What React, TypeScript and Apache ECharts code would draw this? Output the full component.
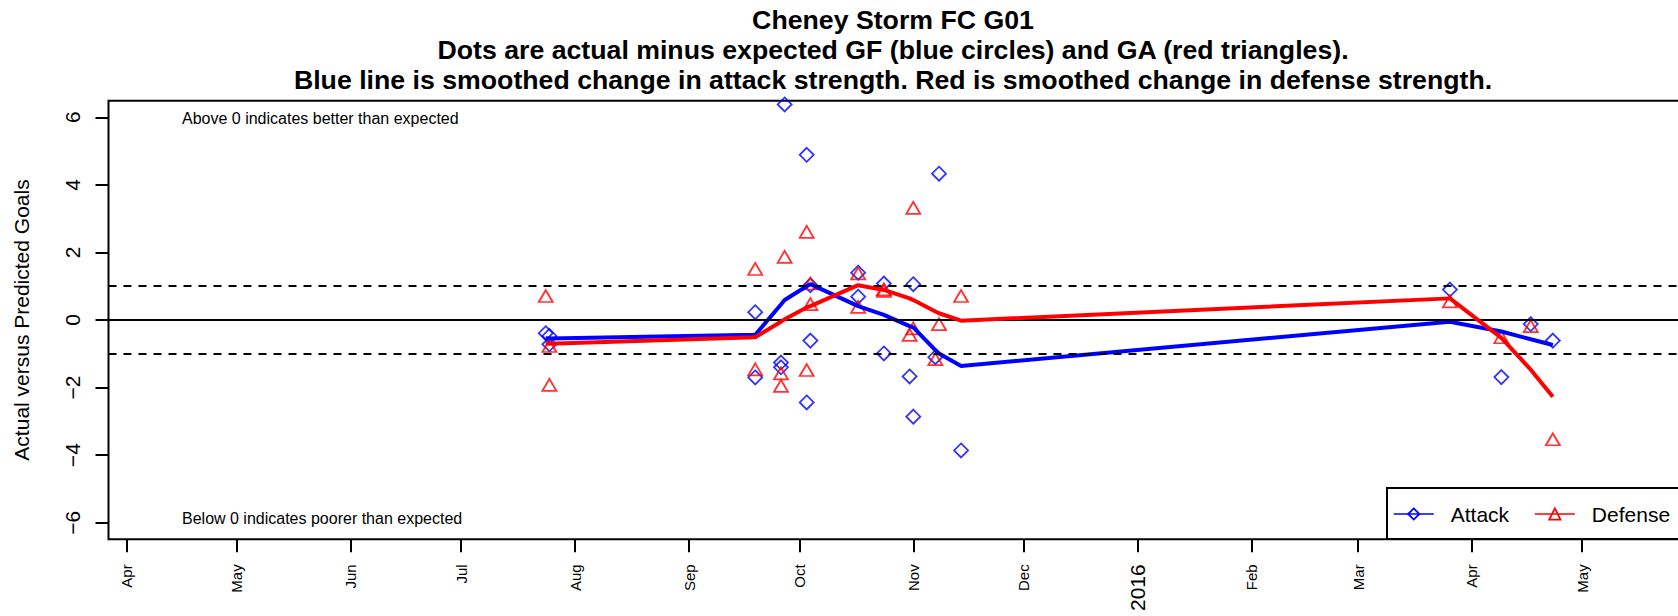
import React, { useEffect, useRef } from "react";
import * as echarts from "echarts";

// ---- Data ----
const matchDates = [
  "2015-07-24", "2015-07-25", "2015-07-25",
  "2015-09-19", "2015-09-19",
  "2015-09-26", "2015-09-26", "2015-09-27",
  "2015-10-03", "2015-10-03",
  "2015-10-04", "2015-10-04",
  "2015-10-17", "2015-10-17",
  "2015-10-24", "2015-10-24",
  "2015-10-31", "2015-11-01", "2015-11-01",
  "2015-11-07", "2015-11-08",
  "2015-11-14",
  "2016-03-26", "2016-04-09", "2016-04-17", "2016-04-23",
];
const attackDiff = [
  -0.39, -0.47, -0.72,
  0.23, -1.7,
  -1.26, -1.4, 6.38,
  4.89, -2.44,
  1.03, -0.61,
  1.4, 0.69,
  1.08, -0.99,
  -1.67, 1.06, -2.86,
  -1.1, 4.33,
  -3.86,
  0.9, -1.69, -0.12, -0.61,
];
const defenseDiff = [
  0.71, -0.77, -1.92,
  1.51, -1.46,
  -1.58, -1.95, 1.87,
  2.61, -1.48,
  1.08, 0.47,
  1.38, 0.39,
  0.91, 0.86,
  -0.44, 3.32, -0.25,
  -1.16, -0.12,
  0.71,
  0.55, -0.51, -0.18, -3.53,
];

const smoothDates = [
  "2015-07-24", "2015-07-25", "2015-09-19", "2015-09-26", "2015-09-27",
  "2015-10-03", "2015-10-04", "2015-10-17", "2015-10-24", "2015-10-31",
  "2015-11-01", "2015-11-07", "2015-11-08", "2015-11-14",
  "2016-03-26", "2016-04-09", "2016-04-17", "2016-04-23",
];
const attackSmooth = [
  -0.54, -0.55, -0.44, 0.46, 0.59,
  1.0, 1.06, 0.41, 0.15, -0.18,
  -0.22, -0.89, -0.99, -1.36,
  -0.05, -0.34, -0.57, -0.74,
];
const defenseSmooth = [
  -0.69, -0.7, -0.51, -0.05, 0.02,
  0.37, 0.41, 1.03, 0.89, 0.64,
  0.59, 0.25, 0.2, -0.02,
  0.64, -0.53, -1.47, -2.27,
];

const monthTickDates = [
  "2015-04-01", "2015-05-01", "2015-06-01", "2015-07-01", "2015-08-01",
  "2015-09-01", "2015-10-01", "2015-11-01", "2015-12-01", "2016-01-01",
  "2016-02-01", "2016-03-01", "2016-04-01", "2016-05-01",
];
const monthTickLabels = [
  "Apr", "May", "Jun", "Jul", "Aug", "Sep", "Oct", "Nov", "Dec", "2016",
  "Feb", "Mar", "Apr", "May",
];
const yTicks = [-6, -4, -2, 0, 2, 4, 6];

const titleLines = [
  "Cheney Storm FC G01",
  "Dots are actual minus expected GF (blue circles) and GA (red triangles).",
  "Blue line is smoothed change in attack strength. Red is smoothed change in defense strength.",
];

// ---- helpers ----
const toUTC = (s: string) => {
  const [y, m, d] = s.split("-").map(Number);
  return Date.UTC(y, m - 1, d);
};

const X_MIN = Date.UTC(2015, 2, 27, 1);
const X_MAX = Date.UTC(2016, 4, 28, 10);
const Y_MIN = -6.49;
const Y_MAX = 6.49;

const FONT = "'Liberation Sans', Arial, Helvetica, sans-serif";
const BLUE = "#0000FF";
const RED = "#FF0000";

export default function App() {
  const ref = useRef<HTMLDivElement>(null);

  useEffect(() => {
    if (!ref.current) return;
    const chart = echarts.init(ref.current, undefined, { renderer: "svg" });

    const tickValues = monthTickDates.map(toUTC);
    const attackPts = matchDates.map((d, i) => [toUTC(d), attackDiff[i]]);
    const defensePts = matchDates.map((d, i) => [toUTC(d), defenseDiff[i]]);
    const attackLine = smoothDates.map((d, i) => [toUTC(d), attackSmooth[i]]);
    const defenseLine = smoothDates.map((d, i) => [toUTC(d), defenseSmooth[i]]);

    const titleY = [19.5, 49.5, 79.5];

    const option: any = {
      animation: false,
      backgroundColor: "#ffffff",
      textStyle: { fontFamily: FONT },
      grid: {
        left: 108.5,
        top: 100.7,
        width: 1574.5,
        height: 438.6,
        show: true,
        borderColor: "#000",
        borderWidth: 2,
        backgroundColor: "transparent",
        containLabel: false,
        outerBoundsMode: "none",
      },
      xAxis: {
        type: "value",
        min: X_MIN,
        max: X_MAX,
        scale: true,
        splitLine: { show: false },
        axisLine: { show: false, onZero: false },
        axisTick: {
          show: true,
          customValues: tickValues,
          length: 13,
          lineStyle: { color: "#000", width: 2 },
        },
        axisLabel: {
          show: true,
          customValues: tickValues,
          rotate: 90,
          margin: 25,
          fontSize: 15,
          color: "#000",
          fontFamily: FONT,
          formatter: (val: number) => {
            const idx = tickValues.indexOf(val);
            const lab = idx >= 0 ? monthTickLabels[idx] : "";
            return /^\d{4}$/.test(lab) ? `{big|${lab}}` : lab;
          },
          rich: {
            big: { fontSize: 21, color: "#000", fontFamily: FONT },
          },
        },
      },
      yAxis: {
        type: "value",
        min: Y_MIN,
        max: Y_MAX,
        splitLine: { show: false },
        axisLine: { show: false, onZero: false },
        name: "Actual versus Predicted Goals",
        nameLocation: "middle",
        nameGap: 77,
        nameTextStyle: { fontSize: 21, color: "#000", fontFamily: FONT },
        axisTick: {
          show: true,
          customValues: yTicks,
          length: 13,
          lineStyle: { color: "#000", width: 2 },
        },
        axisLabel: {
          show: true,
          customValues: yTicks,
          rotate: 90,
          margin: 36,
          align: "center",
          verticalAlign: "middle",
          fontSize: 21,
          color: "#000",
          fontFamily: FONT,
          formatter: (v: number) => (v < 0 ? "\u2212" + Math.abs(v) : String(v)),
        },
      },
      legend: {
        left: 1387,
        top: 488,
        width: 330,
        orient: "horizontal",
        borderColor: "#000",
        borderWidth: 2,
        backgroundColor: "#fff",
        padding: [14, 20, 13, 6],
        itemWidth: 40,
        itemHeight: 14,
        itemGap: 25,
        selectedMode: false,
        textStyle: {
          fontSize: 21,
          color: "#000",
          fontFamily: FONT,
          lineHeight: 24,
          padding: [0, 0, 0, 12],
        },
        data: [
          {
            name: "Attack",
            itemStyle: { color: "rgba(0,0,0,0)", borderColor: BLUE, borderWidth: 1.8 },
            lineStyle: { color: BLUE, width: 1.5 },
          },
          {
            name: "Defense",
            itemStyle: { color: "rgba(0,0,0,0)", borderColor: RED, borderWidth: 1.8 },
            lineStyle: { color: RED, width: 1.5 },
          },
        ],
      },
      graphic: [
        ...titleLines.map((t, i) => ({
          type: "text",
          x: 893,
          y: titleY[i],
          style: {
            text: t,
            fontSize: 26.7,
            fontWeight: "bold",
            fontFamily: FONT,
            fill: "#000",
            textAlign: "center",
            textVerticalAlign: "middle",
          },
        })),
        {
          type: "text",
          x: 182,
          y: 118.8,
          style: {
            text: "Above 0 indicates better than expected",
            fontSize: 16,
            fontFamily: FONT,
            fill: "#000",
            textAlign: "left",
            textVerticalAlign: "middle",
          },
        },
        {
          type: "text",
          x: 182,
          y: 518.3,
          style: {
            text: "Below 0 indicates poorer than expected",
            fontSize: 16,
            fontFamily: FONT,
            fill: "#000",
            textAlign: "left",
            textVerticalAlign: "middle",
          },
        },
      ],
      series: [
        {
          name: "Attack points",
          type: "scatter",
          data: attackPts,
          symbol: "diamond",
          symbolSize: 14,
          itemStyle: { color: "rgba(0,0,0,0)", borderColor: BLUE, borderWidth: 1.8 },
          z: 3,
          silent: true,
        },
        {
          name: "Defense points",
          type: "scatter",
          data: defensePts,
          symbol: "triangle",
          symbolSize: [14, 12],
          itemStyle: { color: "rgba(0,0,0,0)", borderColor: RED, borderWidth: 1.8 },
          z: 3,
          silent: true,
        },
        {
          name: "Attack",
          type: "line",
          data: attackLine,
          symbol: "diamond",
          showSymbol: false,
          itemStyle: { color: BLUE },
          lineStyle: { color: BLUE, width: 4 },
          z: 4,
          silent: true,
          markLine: {
            silent: true,
            symbol: ["none", "none"],
            label: { show: false },
            data: [
              { yAxis: 0, lineStyle: { color: "#000", width: 2, type: "solid" } },
              { yAxis: 1, lineStyle: { color: "#000", width: 2, type: [8, 7] } },
              { yAxis: -1, lineStyle: { color: "#000", width: 2, type: [8, 7] } },
            ],
          },
        },
        {
          name: "Defense",
          type: "line",
          data: defenseLine,
          symbol: "triangle",
          showSymbol: false,
          itemStyle: { color: RED },
          lineStyle: { color: RED, width: 4 },
          z: 5,
          silent: true,
        },
      ],
    };

    chart.setOption(option);
    return () => chart.dispose();
  }, []);

  return (
    <div
      ref={ref}
      style={{ position: "absolute", left: 0, top: 0, width: 1678, height: 616 }}
    />
  );
}
